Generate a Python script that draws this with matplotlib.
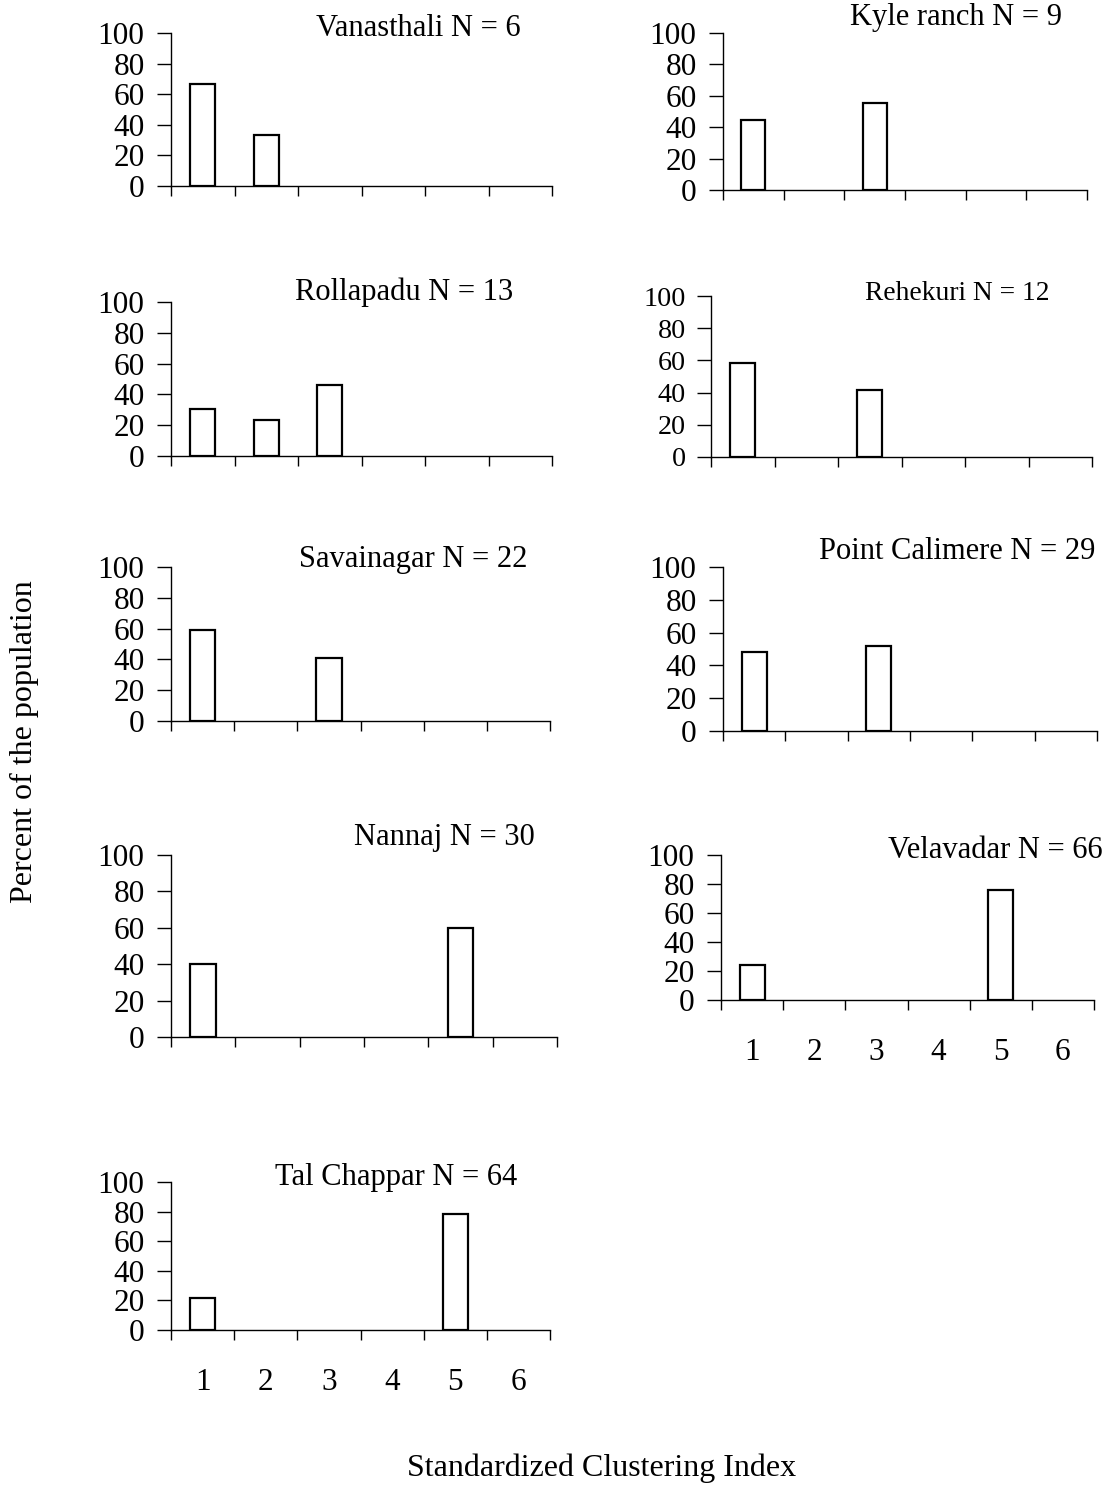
import matplotlib

matplotlib.use("Agg")
import matplotlib.pyplot as plt
import numpy as np

plt.rcParams["font.family"] = ["Liberation Serif", "DejaVu Serif"]

W, H = 1102, 1494

# Percent of each population falling in each clustering-index class
classes = [1, 2, 3, 4, 5, 6]
sites = [
    "Vanasthali",
    "Kyle ranch",
    "Rollapadu",
    "Rehekuri",
    "Savainagar",
    "Point Calimere",
    "Nannaj",
    "Velavadar",
    "Tal Chappar",
]
sample_sizes = [6, 9, 13, 12, 22, 29, 30, 66, 64]
percent = [
    [66.7, 33.3, 0, 0, 0, 0],
    [44.4, 0, 55.6, 0, 0, 0],
    [30.8, 23.1, 46.2, 0, 0, 0],
    [58.3, 0, 41.7, 0, 0, 0],
    [59.1, 0, 40.9, 0, 0, 0],
    [48.3, 0, 51.7, 0, 0, 0],
    [40.0, 0, 0, 0, 60.0, 0],
    [24.2, 0, 0, 0, 75.8, 0],
    [21.9, 0, 0, 0, 78.1, 0],
]
y_ticks = [0, 20, 40, 60, 80, 100]

# panel frames in pixels: left, right, top (100), bottom (0),
# title centre x, title centre y, font scale, show class labels
panels = [
    (171, 552, 33, 186, 418, 29, 1.0, False),
    (723, 1087, 33, 190, 956, 17, 1.0, False),
    (171, 552, 302, 456, 404, 292, 1.0, False),
    (711, 1092, 296, 457, 957, 293, 0.9, False),
    (171, 550, 567, 721, 413, 559, 1.0, False),
    (723, 1097, 567, 731, 957, 552, 1.0, False),
    (171, 557, 855, 1037, 444, 838, 1.0, False),
    (721, 1094, 855, 1000, 995, 850, 1.0, True),
    (171, 550, 1182, 1330, 396, 1178, 1.0, True),
]

fig = plt.figure(figsize=(W / 100, H / 100), dpi=100)

tick_fs = 22.5
title_fs = 22
for site, n, vals, (l, r, t, b, tx, ty, fscale, show_labels) in zip(
    sites, sample_sizes, percent, panels
):
    ax = fig.add_axes([l / W, 1 - b / H, (r - l) / W, (b - t) / H])
    x = np.array(classes)
    v = np.array(vals, dtype=float)
    keep = v > 0
    ax.bar(
        x[keep], v[keep], width=0.4, color="white", edgecolor="black",
        linewidth=1.6, zorder=3,
    )
    ax.set_xlim(0.5, 6.5)
    ax.set_ylim(0, 100)
    ax.set_yticks(y_ticks)
    ax.tick_params(axis="y", direction="out", length=10, width=1,
                   labelsize=tick_fs * fscale, pad=9 * fscale)
    # category boundaries carry the tick marks
    ax.set_xticks(np.arange(0.5, 7.0, 1.0))
    ax.set_xticklabels([])
    ax.tick_params(axis="x", which="major", direction="out", length=7, width=1)
    if show_labels:
        ax.set_xticks(classes, minor=True)
        ax.set_xticklabels([str(c) for c in classes], minor=True)
        ax.tick_params(axis="x", which="minor", length=0, labelsize=tick_fs,
                       pad=27)
    for side in ("top", "right"):
        ax.spines[side].set_visible(False)
    for side in ("left", "bottom"):
        ax.spines[side].set_linewidth(1)
    fig.text(tx / W, 1 - ty / H, f"{site} N = {n}", ha="center", va="center",
             fontsize=title_fs * fscale)

fig.text(24 / W, 1 - 742 / H, "Percent of the population", rotation=90,
         ha="center", va="center", fontsize=23)
fig.text(602 / W, 1 - 1468 / H, "Standardized Clustering Index",
         ha="center", va="center", fontsize=23)

fig.savefig("out.png", dpi=100, facecolor="white")
